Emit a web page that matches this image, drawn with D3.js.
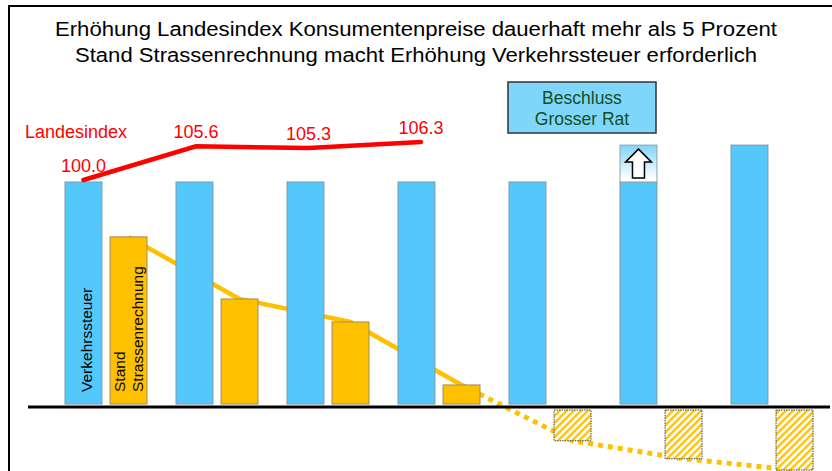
<!DOCTYPE html>
<html><head><meta charset="utf-8">
<script src="https://cdn.jsdelivr.net/npm/d3@7"></script>
<style>body{margin:0;background:#fff;} svg{display:block;font-family:"Liberation Sans",Arial,sans-serif;}</style>
</head><body>
<svg id="c" width="832" height="471"></svg>
<script>
// ---- data ----
const categories = ["P1","P2","P3","P4","P5","P6","P7"];
const verkehrssteuer = [100,100,100,100,100,100,116.4];
const verkehrssteuerErhoehung = [0,0,0,0,0,16.4,0];
const strassenrechnung = [75.6,48,37.8,9.8,-15,-23,-28];
const landesindex = [100.0,105.6,105.3,106.3];
const landesindexLabels = ["100.0","105.6","105.3","106.3"];
const titleLines = ["Erhöhung Landesindex Konsumentenpreise dauerhaft mehr als 5 Prozent",
                    "Stand Strassenrechnung macht Erhöhung Verkehrssteuer erforderlich"];
const seriesNames = ["Verkehrssteuer","Strassenrechnung"];
const beschlussLines = ["Beschluss","Grosser Rat"];

const svg = d3.select("#c");
const defs = svg.append("defs");
const grad = defs.append("linearGradient").attr("id","inc").attr("x1",0).attr("y1",0).attr("x2",0).attr("y2",1);
grad.append("stop").attr("offset","0%").attr("stop-color","#7fd3fa");
grad.append("stop").attr("offset","90%").attr("stop-color","#ffffff");
const pat = defs.append("pattern").attr("id","hatch").attr("patternUnits","userSpaceOnUse")
  .attr("width",5).attr("height",5).attr("patternTransform","rotate(45)");
pat.append("rect").attr("width",5).attr("height",5).attr("fill","#fff");
pat.append("rect").attr("width",2.3).attr("height",5).attr("fill","#ffc000");

// frame
svg.append("path").attr("d","M9,475 L9,6 L840,6").attr("fill","none").attr("stroke","#000").attr("stroke-width",2);

// scales
const x = d3.scaleBand().domain(categories).range([65, 65 + 111*categories.length]).paddingInner(0).paddingOuter(0);
const x1 = d3.scaleBand().domain(seriesNames).range([0,82]).paddingInner(0.18);
const y = d3.scaleLinear().domain([0,100]).range([407,182]);
const yi = d3.scaleLinear().domain([100,106.3]).range([180,142]);
const gap = 3;
const bw = x1.bandwidth();
const cx = (c,s) => x(c) + x1(s) + bw/2;

// orange line (behind bars)
const pts = strassenrechnung.map((v,i)=>[cx(categories[i],"Strassenrechnung"), y(v)]);
const line = d3.line();
svg.append("path").attr("d", line(pts.slice(0,4))).attr("fill","none").attr("stroke","#ffc000").attr("stroke-width",4.5);
svg.append("path").attr("d", line(pts.slice(3))).attr("fill","none").attr("stroke","#ffc000").attr("stroke-width",5).attr("stroke-dasharray","5,5");

// blue bars
svg.append("g").selectAll("rect").data(verkehrssteuer).join("rect")
  .attr("x",(d,i)=>x(categories[i])+x1("Verkehrssteuer"))
  .attr("y",d=>y(d)).attr("width",bw).attr("height",d=>y(0)-gap-y(d))
  .attr("fill","#55c8fb").attr("stroke","#7d9aa6").attr("stroke-width",1);

// increase segment with arrow
verkehrssteuerErhoehung.forEach((d,i)=>{
  if(!d) return;
  const c = categories[i];
  const bx = x(c)+x1("Verkehrssteuer");
  const top = y(verkehrssteuer[i]+d), bot = y(verkehrssteuer[i]);
  svg.append("rect").attr("x",bx).attr("y",top).attr("width",bw).attr("height",bot-top)
    .attr("fill","url(#inc)").attr("stroke","#8fa3ad").attr("stroke-width",1);
  const m = bx+bw/2;
  svg.append("path").attr("d",`M${m},${top+4} L${m+13},${top+17} L${m+6},${top+17} L${m+6},${top+33} L${m-6},${top+33} L${m-6},${top+17} L${m-13},${top+17} Z`)
    .attr("fill","#fff").attr("stroke","#000").attr("stroke-width",1.5);
});

// orange bars
svg.append("g").selectAll("rect").data(strassenrechnung).join("rect")
  .attr("x",(d,i)=>x(categories[i])+x1("Strassenrechnung"))
  .attr("y",d=> d>=0 ? y(d) : y(0)+gap)
  .attr("width",bw)
  .attr("height",d=> d>=0 ? y(0)-gap-y(d) : y(d)-y(0)-gap)
  .attr("fill",d=> d>=0 ? "#ffc000" : "url(#hatch)")
  .attr("stroke",d=> d>=0 ? "#a08c5a" : "#444")
  .attr("stroke-width",1)
  .attr("stroke-dasharray",d=> d>=0 ? null : "1.5,1");

// baseline
svg.append("line").attr("x1",28).attr("x2",830).attr("y1",y(0)).attr("y2",y(0)).attr("stroke","#000").attr("stroke-width",3);

// red index line
const ipts = landesindex.map((v,i)=>[cx(categories[i],"Verkehrssteuer") + i*1.5, yi(v)]);
svg.append("path").attr("d",line(ipts)).attr("fill","none").attr("stroke","#ff0000").attr("stroke-width",4.5).attr("stroke-linecap","round");
svg.append("g").selectAll("text").data(landesindexLabels).join("text")
  .attr("x",(d,i)=>ipts[i][0]).attr("y",(d,i)=>ipts[i][1]-8)
  .attr("text-anchor","middle").attr("font-size",18).attr("fill","#ff0000").text(d=>d);
svg.append("text").attr("x",25).attr("y",138).attr("font-size",18).attr("fill","#ff0000").text("Landesindex");

// rotated labels
const b0 = x(categories[0]);
svg.append("text").attr("transform",`translate(${b0+x1("Verkehrssteuer")+27},392) rotate(-90)`)
  .attr("font-size",15.5).attr("fill","#000").text("Verkehrssteuer");
svg.append("text").attr("transform",`translate(${b0+x1("Strassenrechnung")+15},392) rotate(-90)`)
  .attr("font-size",15.5).attr("fill","#000").text("Stand");
svg.append("text").attr("transform",`translate(${b0+x1("Strassenrechnung")+33},392) rotate(-90)`)
  .attr("font-size",15.5).attr("fill","#000").text("Strassenrechnung");

// Beschluss box
svg.append("rect").attr("x",508).attr("y",82).attr("width",148).attr("height",51)
  .attr("fill","#7fd6fb").attr("stroke","#333").attr("stroke-width",1.5);
svg.append("g").selectAll("text").data(beschlussLines).join("text")
  .attr("x",582).attr("y",(d,i)=>104+i*21).attr("text-anchor","middle")
  .attr("font-size",17.5).attr("fill","#164d1c").text(d=>d);

// title
const tl = [722, 682];
svg.append("g").selectAll("text").data(titleLines).join("text")
  .attr("x",416).attr("y",(d,i)=>36+i*26).attr("text-anchor","middle")
  .attr("font-size",19.5).attr("fill","#000")
  .attr("textLength",(d,i)=>tl[i]).attr("lengthAdjust","spacingAndGlyphs").text(d=>d);
</script>
</body></html>
